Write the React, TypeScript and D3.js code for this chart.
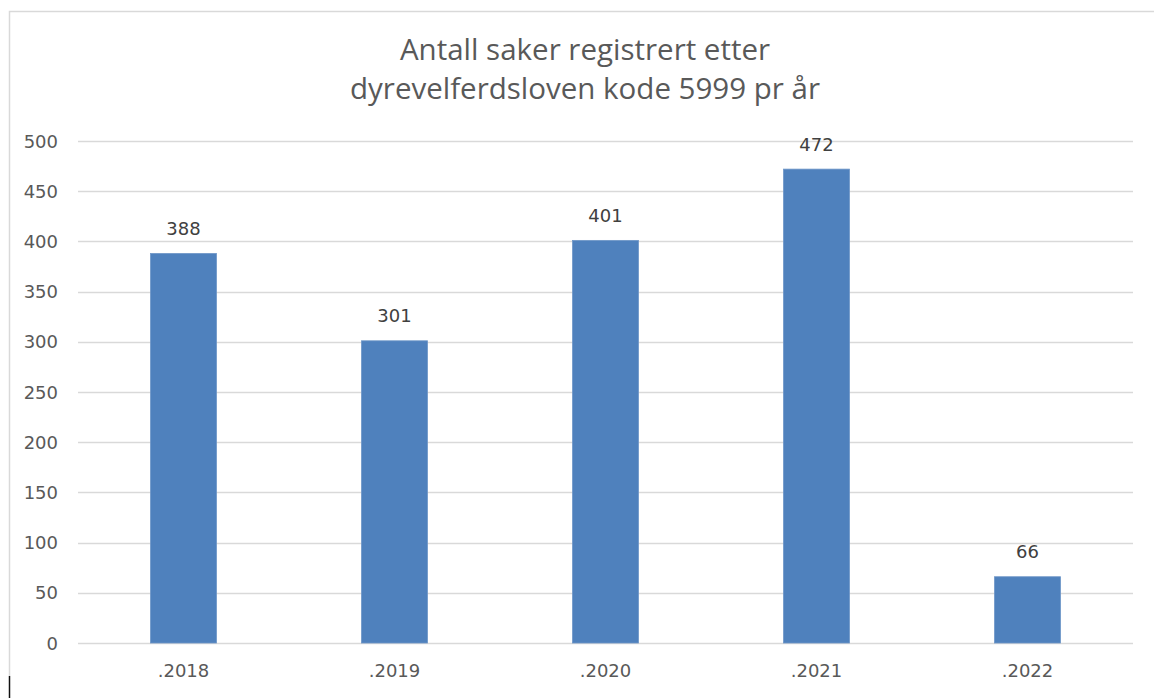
import React, { useEffect, useRef } from 'react';
import * as d3 from 'd3';

const years = ['.2018', '.2019', '.2020', '.2021', '.2022'];
const cases = [388, 301, 401, 472, 66];
const yTicks = [0, 50, 100, 150, 200, 250, 300, 350, 400, 450, 500];
const titleLines = ['Antall saker registrert etter', 'dyrevelferdsloven kode 5999 pr år'];

const App = () => {
  const ref = useRef<SVGSVGElement | null>(null);

  useEffect(() => {
    if (!ref.current) return;
    const svg = d3.select(ref.current);
    svg.selectAll('*').remove();

    const titleFont = 'Open Sans, Noto Sans, sans-serif';
    const labelFont = 'DejaVu Sans, sans-serif';

    // chart frame
    svg.append('rect').attr('width', 1154).attr('height', 698).attr('fill', '#fff');
    svg
      .append('path')
      .attr('d', 'M9.5,676 V11.5 H1154')
      .attr('fill', 'none')
      .attr('stroke', '#d9d9d9')
      .attr('stroke-width', 1.5);
    svg
      .append('line')
      .attr('x1', 9.5)
      .attr('x2', 9.5)
      .attr('y1', 676)
      .attr('y2', 698)
      .attr('stroke', '#111')
      .attr('stroke-width', 1.5);

    const x = d3.scaleBand().domain(years).range([78, 1133]).paddingInner(0.687).paddingOuter(0.3435);
    const y = d3.scaleLinear().domain([0, 500]).range([643, 141]);

    // title
    svg
      .append('g')
      .selectAll('text')
      .data(titleLines)
      .enter()
      .append('text')
      .attr('x', 585)
      .attr('y', (d, i) => 60 + i * 39)
      .attr('text-anchor', 'middle')
      .attr('font-family', titleFont)
      .attr('font-size', 29.5)
      .attr('fill', '#595959')
      .text((d) => d);

    // gridlines
    svg
      .append('g')
      .selectAll('line')
      .data(yTicks)
      .enter()
      .append('line')
      .attr('x1', 78)
      .attr('x2', 1133)
      .attr('y1', (d) => Math.round(y(d)) + 0.5)
      .attr('y2', (d) => Math.round(y(d)) + 0.5)
      .attr('stroke', '#d9d9d9')
      .attr('stroke-width', 1.5);

    // y labels
    svg
      .append('g')
      .selectAll('text')
      .data(yTicks)
      .enter()
      .append('text')
      .attr('x', 58)
      .attr('y', (d) => y(d) + 6.5)
      .attr('text-anchor', 'end')
      .attr('font-family', labelFont)
      .attr('font-size', 18)
      .attr('fill', '#595959')
      .text((d) => d);

    // bars
    svg
      .append('g')
      .selectAll('rect')
      .data(cases)
      .enter()
      .append('rect')
      .attr('x', (d, i) => x(years[i])!)
      .attr('y', (d) => y(d))
      .attr('width', x.bandwidth())
      .attr('height', (d) => y(0) - y(d))
      .attr('fill', '#4f81bd')
      .attr('stroke', '#6f97c8')
      .attr('stroke-width', 0.8);

    // value labels
    svg
      .append('g')
      .selectAll('text')
      .data(cases)
      .enter()
      .append('text')
      .attr('x', (d, i) => x(years[i])! + x.bandwidth() / 2)
      .attr('y', (d) => y(d) - 18.5)
      .attr('text-anchor', 'middle')
      .attr('font-family', labelFont)
      .attr('font-size', 18)
      .attr('fill', '#404040')
      .text((d) => d);

    // x labels
    svg
      .append('g')
      .selectAll('text')
      .data(years)
      .enter()
      .append('text')
      .attr('x', (d) => x(d)! + x.bandwidth() / 2)
      .attr('y', 677)
      .attr('text-anchor', 'middle')
      .attr('font-family', labelFont)
      .attr('font-size', 18)
      .attr('fill', '#595959')
      .text((d) => d);
  }, []);

  return (
    <svg
      ref={ref}
      width="1154"
      height="698"
      style={{ position: 'absolute', left: 0, top: 0, display: 'block' }}
    />
  );
};

export default App;
